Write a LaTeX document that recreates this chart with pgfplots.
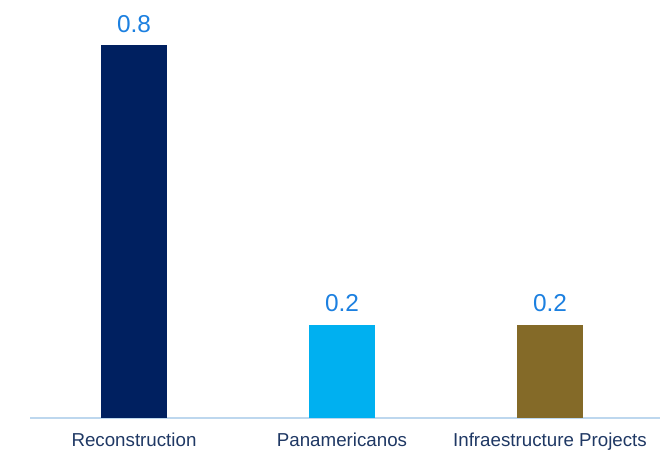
\documentclass[border=0pt]{standalone}
\usepackage{pgfplots}
\pgfplotsset{compat=1.18}
\usepackage{fontspec}
\setmainfont{Liberation Sans}
\definecolor{bA}{HTML}{002060}
\definecolor{bB}{HTML}{00B0F0}
\definecolor{bC}{HTML}{846A28}
\definecolor{axl}{HTML}{BDD7EE}
\definecolor{vlab}{HTML}{1C80E0}
\definecolor{tlab}{HTML}{1F3864}
\begin{document}
\begin{tikzpicture}
\useasboundingbox (-30bp,-38bp) rectangle (635bp,418bp);
\begin{axis}[
  at={(0,0)}, anchor=south west,
  scale only axis, width=630bp, height=418bp,
  xmin=-0.5, xmax=2.529, ymin=0, ymax=0.8965,
  axis x line*=bottom, axis y line=none,
  x axis line style={draw=axl, line width=1.2pt, -},
  xtick={0,1,2}, xtick style={draw=none},
  xticklabels={Reconstruction,Panamericanos,Infraestructure Projects},
  xticklabel style={font=\fontsize{18.8}{22}\selectfont, text=tlab, yshift=-7bp},
  ytick=\empty,
  ybar, bar width=66bp,
  nodes near coords,
  nodes near coords style={font=\fontsize{24.5}{28}\selectfont, text=vlab, yshift=9bp},
  point meta=explicit symbolic,
  clip=false,
]
\addplot[fill=bA, draw=none, bar shift=0pt] coordinates {(0,0.8) [0.8]};
\addplot[fill=bB, draw=none, bar shift=0pt] coordinates {(1,0.2) [0.2]};
\addplot[fill=bC, draw=none, bar shift=0pt] coordinates {(2,0.2) [0.2]};
\end{axis}
\end{tikzpicture}
\end{document}
